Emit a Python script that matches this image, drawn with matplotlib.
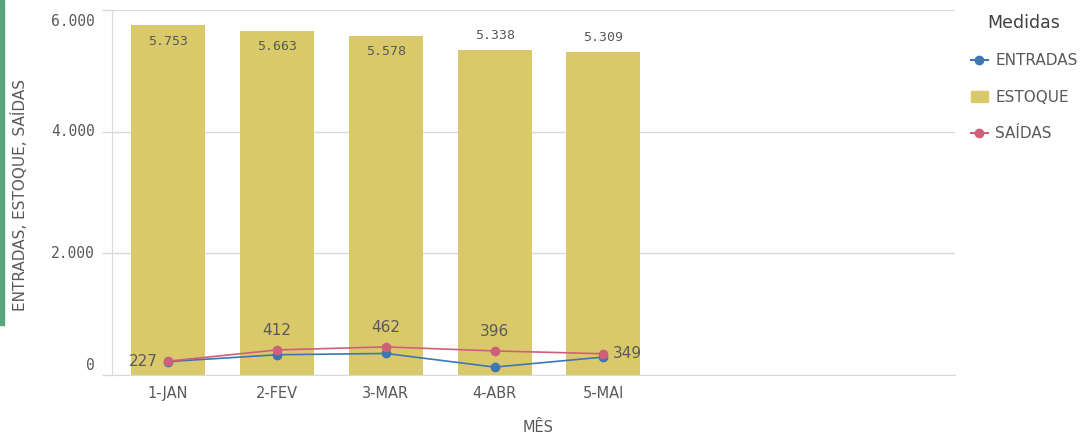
import matplotlib
matplotlib.use("Agg")
import matplotlib.pyplot as plt
from matplotlib.lines import Line2D
from matplotlib.patches import Patch, Rectangle

categories = ["1-JAN", "2-FEV", "3-MAR", "4-ABR", "5-MAI"]
estoque = [5753, 5663, 5578, 5338, 5309]
saidas = [227, 412, 462, 396, 349]
entradas = [220, 333, 354, 130, 295]
yticks = [0, 2000, 4000, 6000]
ytick_labels = ["0", "2.000", "4.000", "6.000"]

C_BAR = "#DAC96B"
C_BLUE = "#3C77B2"
C_PINK = "#D0607A"
C_TXT = "#595959"
C_GRID = "#D9D9D9"

def fmt(v):
    return f"{v:,}".replace(",", ".")

W, H = 1086, 434
fig = plt.figure(figsize=(W / 100, H / 100), dpi=100)
ax = fig.add_axes([112 / W, 1 - 375 / H, (955 - 112) / W, (375 - 10) / H])

x = list(range(len(categories)))
ax.bar(x, estoque, width=0.68, color=C_BAR, zorder=2)
ax.plot(x, entradas, color=C_BLUE, lw=1.2, marker="o", ms=6, zorder=3)
ax.plot(x, saidas, color=C_PINK, lw=1.2, marker="o", ms=6, zorder=4)

ax.set_xlim(-0.515, 7.23)
ax.set_ylim(0, 6000)

# bar labels
for xi, v in zip(x, estoque):
    dy = -16 if v > 5500 else 15
    ax.annotate(fmt(v), (xi, v), xytext=(0, dy), textcoords="offset pixels",
                ha="center", va="center", fontsize=9.5, family="DejaVu Sans Mono",
                color=C_TXT, zorder=5)

# line labels
n = len(saidas)
for i, (xi, v) in enumerate(zip(x, saidas)):
    if i == 0:
        off, ha = (-10, 0), "right"
    elif i == n - 1:
        off, ha = (9, 0), "left"
    else:
        off, ha = (0, 19), "center"
    ax.annotate(str(v), (xi, v), xytext=off, textcoords="offset pixels",
                ha=ha, va="center", fontsize=11, color=C_TXT, zorder=5)

# grid & spines
ax.set_yticks(yticks)
ax.set_yticklabels([""] * len(yticks))
ax.yaxis.grid(True, color=C_GRID, lw=1, zorder=0)
ax.set_axisbelow(True)
for s in ["top", "right"]:
    ax.spines[s].set_visible(False)
ax.spines["left"].set_color(C_GRID)
ax.spines["bottom"].set_color(C_GRID)
ax.tick_params(axis="y", length=7, color=C_GRID, width=1)
ax.tick_params(axis="x", length=0, pad=8, labelsize=10.5, labelcolor=C_TXT)
ax.set_xticks(x)
ax.set_xticklabels(categories)

# y tick labels (edge labels shifted inward like the original)
for v, lab in zip(yticks, ytick_labels):
    dy = 0
    if v == yticks[-1]:
        dy = -12
    elif v == yticks[0]:
        dy = 10
    ax.annotate(lab, (0, v), xycoords=("axes fraction", "data"),
                xytext=(-17, dy), textcoords="offset pixels", ha="right", va="center",
                fontsize=10.5, family="DejaVu Sans Mono", color=C_TXT)

fig.text(20 / W, 1 - 195 / H, "ENTRADAS, ESTOQUE, SAÍDAS", rotation=90,
         ha="center", va="center", fontsize=11, color=C_TXT)
fig.text(538 / W, 1 - 427 / H, "MÊS", ha="center", va="center",
         fontsize=10.5, color=C_TXT)

# green strip at left edge
fig.patches.append(Rectangle((0, 1 - 325 / H), 4 / W, 325 / H,
                             transform=fig.transFigure, color="#5BA57A", zorder=10))

handles = [
    Line2D([0], [0], color=C_BLUE, lw=1.5, marker="o", ms=6),
    Patch(color=C_BAR),
    Line2D([0], [0], color=C_PINK, lw=1.5, marker="o", ms=6),
]
leg = fig.legend(handles, ["ENTRADAS", "ESTOQUE", "SAÍDAS"], title="Medidas",
                 loc="upper left", bbox_to_anchor=(957 / W, 1 - 0 / H),
                 frameon=False, fontsize=11, title_fontsize=12.5,
                 labelspacing=1.4, handlelength=1.1, handletextpad=0.5,
                 labelcolor=C_TXT)
leg.get_title().set_color("#404040")

fig.savefig("out.png", dpi=100)
